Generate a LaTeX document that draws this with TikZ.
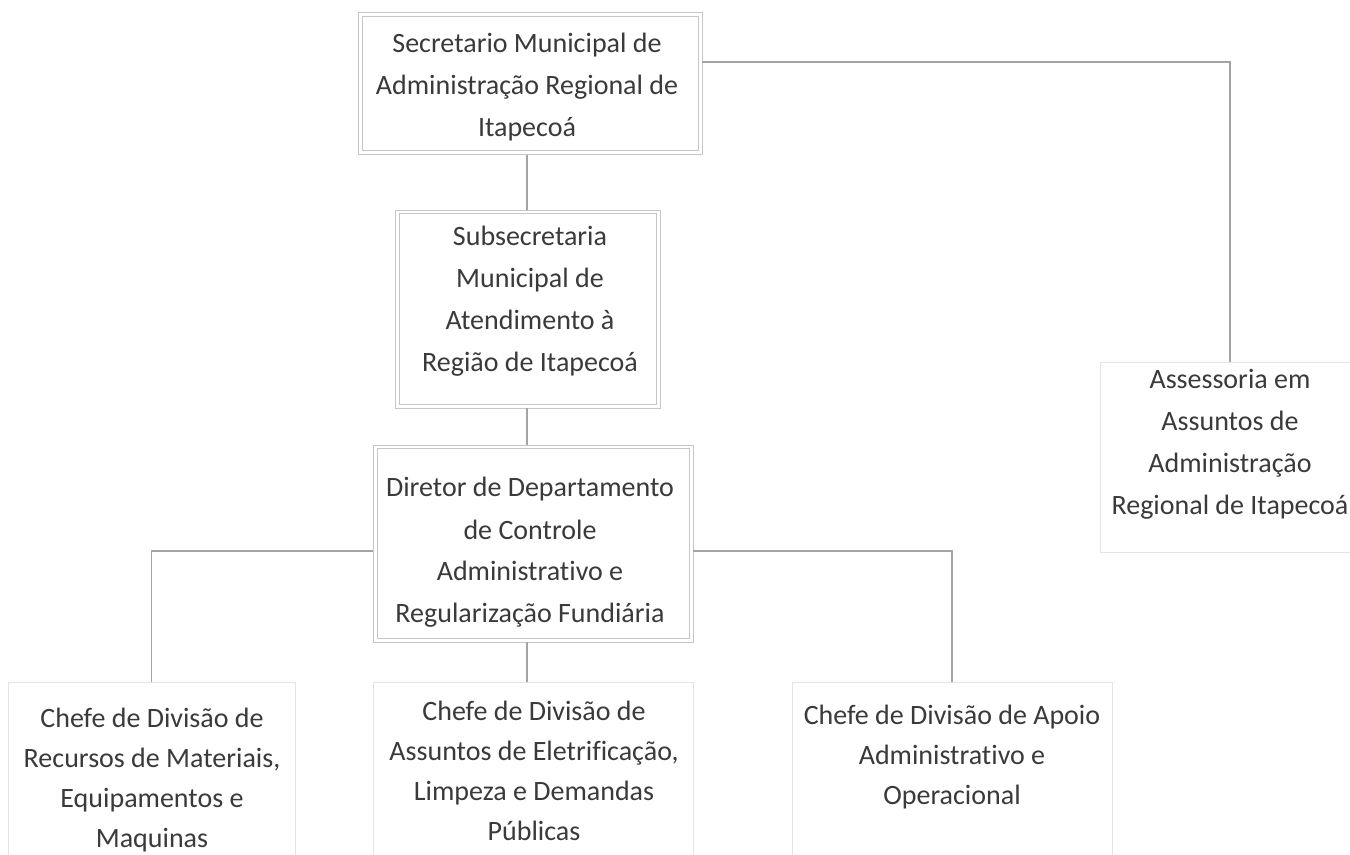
\documentclass[tikz,border=0pt]{standalone}
\usepackage{fontspec}
\setmainfont{Carlito}[Ligatures=NoCommon]
\definecolor{boxgray}{HTML}{C6C6C6}
\definecolor{linkgray}{HTML}{A4A4A4}
\definecolor{faintgray}{HTML}{E4E4E4}
\definecolor{textgray}{HTML}{3A3A3A}
\newcommand{\lines}[1]{\begin{tabular}[t]{@{}c@{}}#1\end{tabular}}
\begin{document}
\begin{tikzpicture}[x=0.5pt,y=-0.5pt,
  box/.style={draw=boxgray, line width=0.45pt, fill=white, inner sep=0pt},
  faintbox/.style={draw=faintgray, line width=0.5pt, inner sep=0pt},
  inframe/.style={draw=boxgray, line width=0.45pt},
  link/.style={draw=linkgray, line width=0.6pt},
  txt/.style={anchor=base, inner sep=0pt, text=textgray},
  upper/.style={txt, font=\fontsize{14pt}{21pt}\selectfont},
  lower/.style={txt, font=\fontsize{14pt}{20pt}\selectfont}]
\useasboundingbox (0,0) rectangle (1350,855);
\fill[white] (0,0) rectangle (1350,855);

% boxes
\node[box, minimum width=172pt, minimum height=71pt] (top) at (530,83.5) {};
\node[box, minimum width=132.5pt, minimum height=99pt] (sub) at (527.5,309) {};
\node[box, minimum width=160pt, minimum height=98.5pt] (dir) at (533,543.5) {};
\foreach \n in {top,sub,dir}
  \draw[inframe] ([xshift=2.2pt,yshift=-2.2pt]\n.north west) rectangle ([xshift=-2.2pt,yshift=2.2pt]\n.south east);
\node[faintbox, minimum width=130pt, minimum height=95pt] (assess) at (1230,458) {};
\node[faintbox, minimum width=143.5pt, minimum height=99pt] (b1) at (151.5,781) {};
\node[faintbox, minimum width=160pt, minimum height=99pt] (b2) at (533,781) {};
\node[faintbox, minimum width=160pt, minimum height=99pt] (b3) at (952,781) {};

% texts
\node[upper] (ttop) at (527,53) {\lines{Secretario Municipal de\\Administração Regional de\\Itapecoá}};
\node[upper] (tsub) at (530,246) {\lines{Subsecretaria\\Municipal de\\Atendimento à\\Região de Itapecoá}};
\node[upper] (tdir) at (530,497) {\lines{Diretor de Departamento\\de Controle\\Administrativo e\\Regularização Fundiária}};
\node[upper] (tassess) at (1230,389) {\lines{Assessoria em\\Assuntos de\\Administração\\Regional de Itapecoá}};
\node[lower] (tb1) at (152,727) {\lines{Chefe de Divisão de\\Recursos de Materiais,\\Equipamentos e\\Maquinas}};
\node[lower] (tb2) at (534,720) {\lines{Chefe de Divisão de\\Assuntos de Eletrificação,\\Limpeza e Demandas\\Públicas}};
\node[lower] (tb3) at (952,724) {\lines{Chefe de Divisão de Apoio\\Administrativo e\\Operacional}};

% connectors
\coordinate (spine) at (527,0);
\coordinate (toprow) at (0,62);
\coordinate (dirrow) at (0,551);
\draw[link] (top.south -| spine) -- (sub.north -| spine);
\draw[link] (sub.south -| spine) -- (dir.north -| spine);
\draw[link] (dir.south -| spine) -- (b2.north -| spine);
\draw[link] (top.east |- toprow) -| (assess.north);
\draw[link] (dir.west |- dirrow) -| (b1.north);
\draw[link] (dir.east |- dirrow) -| (b3.north);
\end{tikzpicture}
\end{document}
